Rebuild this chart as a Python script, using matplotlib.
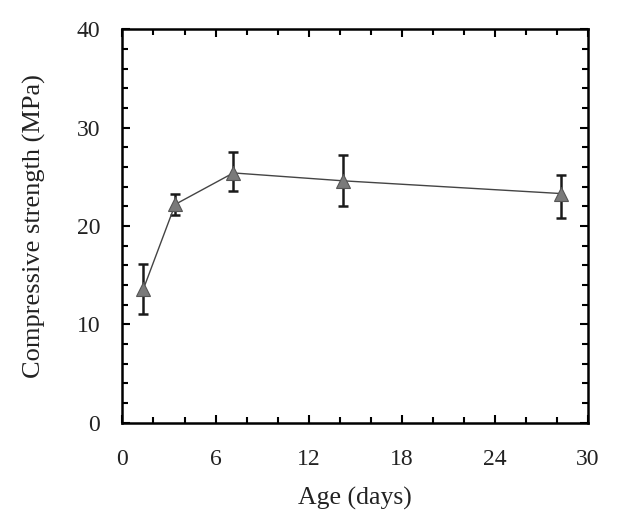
import matplotlib
matplotlib.use("Agg")
import matplotlib.pyplot as plt
from matplotlib.ticker import MultipleLocator

age = [1.35, 3.4, 7.15, 14.2, 28.3]
strength = [13.6, 22.2, 25.4, 24.6, 23.3]
err_low = [2.5, 1.1, 1.8, 2.6, 2.5]
err_high = [2.5, 1.1, 2.1, 2.6, 1.9]

plt.rcParams['font.family'] = ['Liberation Serif', 'DejaVu Serif']

fig = plt.figure(figsize=(6.17, 5.24), dpi=100)
ax = fig.add_axes([0.1985, 0.1933, 0.754, 0.7507])

ax.errorbar(age, strength, yerr=[err_low, err_high], fmt='none', ecolor='#1a1a1a',
            elinewidth=1.8, capsize=3.8, capthick=1.8, zorder=2)
ax.plot(age, strength, color='#444444', lw=1.0, zorder=3)
ax.plot(age, strength, linestyle='none', marker='^', markersize=10,
        markerfacecolor='#7a7a7a', markeredgecolor='#555555', markeredgewidth=0.8, zorder=4)

ax.set_xlim(0, 30)
ax.set_ylim(0, 40)
ax.xaxis.set_major_locator(MultipleLocator(6))
ax.xaxis.set_minor_locator(MultipleLocator(2))
ax.yaxis.set_major_locator(MultipleLocator(10))
ax.yaxis.set_minor_locator(MultipleLocator(2))
ax.tick_params(which='both', direction='in', top=True, right=True, width=1.5,
               colors='black', labelcolor='#222222')
ax.tick_params(which='major', length=6, labelsize=17)
ax.tick_params(axis='x', which='major', pad=19)
ax.tick_params(axis='y', which='major', pad=16)
ax.tick_params(which='minor', length=4)
for s in ax.spines.values():
    s.set_linewidth(1.8)

ax.set_xlabel('Age (days)', fontsize=18.5, labelpad=12, color='#222222')
ax.set_ylabel('Compressive strength (MPa)', fontsize=19, labelpad=22, color='#222222')

fig.savefig('out.png', dpi=100)
